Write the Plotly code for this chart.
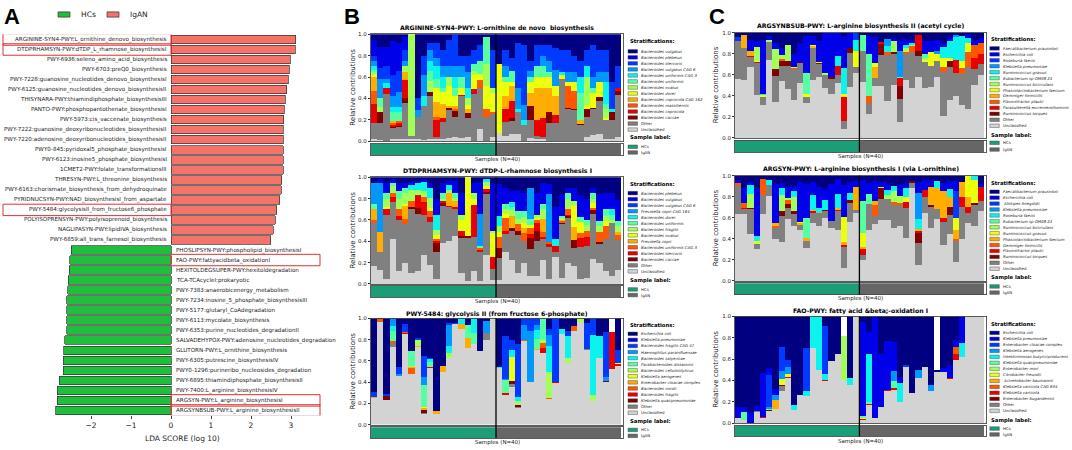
import plotly.graph_objects as go

W, H = 1072, 450
FONT = "DejaVu Sans"

# ---------------- Panel A : LEfSe LDA scores ----------------
lda_igan_names = [
    "ARGININE-SYN4-PWY:L_ornithine_denovo_biosynthesis",
    "DTDPRHAMSYN-PWY:dTDP_L_rhamnose_biosynthesisI",
    "PWY-6936:seleno_amino_acid_biosynthesis",
    "PWY-6703:preQ0_biosynthesis",
    "PWY-7228:guanosine_nucleotides_denovo_biosynthesisI",
    "PWY-6125:guanosine_nucleotides_denovo_biosynthesisII",
    "THISYNARA-PWY:thiamindiphosphate_biosynthesisIII",
    "PANTO-PWY:phosphopantothenate_biosynthesisI",
    "PWY-5973:cis_vaccenate_biosynthesis",
    "PWY-7222:guanosine_deoxyribonucleotides_biosynthesisII",
    "PWY-7220:adenosine_deoxyribonucleotides_biosynthesisII",
    "PWY0-845:pyridoxal5_phosphate_biosynthesisI",
    "PWY-6123:inosine5_phosphate_biosynthesisI",
    "1CMET2-PWY:folate_transformationsIII",
    "THRESYN-PWY:L_threonine_biosynthesis",
    "PWY-6163:chorismate_biosynthesis_from_dehydroquinate",
    "PYRIDNUCSYN-PWY:NAD_biosynthesisI_from_aspartate",
    "PWY-5484:glycolysisII_from_fructose6_phosphate",
    "POLYISOPRENSYN-PWY:polyisoprenoid_biosynthesis",
    "NAGLIPASYN-PWY:lipidIVA_biosynthesis",
    "PWY-6859:all_trans_farnesol_biosynthesis",
]
lda_igan_scores = [3.12, 3.11, 2.98, 2.96, 2.93, 2.89, 2.86, 2.83, 2.82, 2.81, 2.81,
                   2.81, 2.80, 2.80, 2.77, 2.75, 2.72, 2.64, 2.60, 2.56, 2.49]
lda_hcs_names = [
    "PHOSLIPSYN-PWY:phospholipid_biosynthesisI",
    "FAO-PWY:fattyacidbeta_oxidationI",
    "HEXITOLDEGSUPER-PWY:hexitoldegradation",
    "TCA-TCAcycleI:prokaryotic",
    "PWY-7383:anaerobicenergy_metabolism",
    "PWY-7234:inosine_5_phosphate_biosynthesisIII",
    "PWY-5177:glutaryl_CoAdegradation",
    "PWY-6113:mycolate_biosynthesis",
    "PWY-6353:purine_nucleotides_degradationII",
    "SALVADEHYPOX-PWY:adenosine_nucleotides_degradation",
    "GLUTORN-PWY:L_ornithine_biosynthesis",
    "PWY-6305:putrescine_biosynthesisIV",
    "PWY0-1296:purineribo_nucleosides_degradation",
    "PWY-6895:thiamindiphosphate_biosynthesisII",
    "PWY-7400:L_arginine_biosynthesisIV",
    "ARGSYN-PWY:L_arginine_biosynthesisI",
    "ARGSYNBSUB-PWY:L_arginine_biosynthesisII",
]
lda_hcs_scores = [-2.50, -2.53, -2.55, -2.57, -2.58, -2.61, -2.61, -2.61, -2.61,
                  -2.66, -2.68, -2.69, -2.70, -2.80, -2.85, -2.85, -2.88]
lda_ticks = [-2, -1, 0, 1, 2, 3]
highlighted = ["ARGININE-SYN4-PWY:L_ornithine_denovo_biosynthesis",
               "DTDPRHAMSYN-PWY:dTDP_L_rhamnose_biosynthesisI",
               "PWY-5484:glycolysisII_from_fructose6_phosphate",
               "FAO-PWY:fattyacidbeta_oxidationI",
               "ARGSYN-PWY:L_arginine_biosynthesisI",
               "ARGSYNBSUB-PWY:L_arginine_biosynthesisII"]

# ---------------- Panels B / C : stratified contributions ----------------
sample_groups = ["HCs"] * 20 + ["IgAN"] * 20
y_ticks = [0.0, 0.2, 0.4, 0.6, 0.8, 1.0]

# species listed in legend order (top of stack first)
b1_species = ["Bacteroides vulgatus", "Bacteroides plebeius", "Bacteroides stercoris",
              "Bacteroides vulgatus CAG 6", "Bacteroides uniformis CAG 3", "Bacteroides uniformis",
              "Bacteroides ovatus", "Bacteroides dorei", "Bacteroides coprocola CAG 162",
              "Bacteroides massiliensis", "Bacteroides coprocola", "Bacteroides caccae"]
b2_species = ["Bacteroides plebeius", "Bacteroides vulgatus", "Bacteroides vulgatus CAG 6",
              "Prevotella copri CAG 164", "Bacteroides dorei", "Bacteroides uniformis",
              "Bacteroides fragilis", "Bacteroides ovatus", "Prevotella copri",
              "Bacteroides uniformis CAG 3", "Bacteroides stercoris", "Bacteroides caccae"]
b3_species = ["Escherichia coli", "Klebsiella pneumoniae", "Bacteroides fragilis CAG 47",
              "Haemophilus parainfluenzae", "Bacteroides salyersiae", "Parabacteroides distasonis",
              "Bacteroides cellulosilyticus", "Klebsiella aerogenes", "Enterobacter cloacae complex",
              "Bacteroides nordii", "Bacteroides fragilis", "Klebsiella quasipneumoniae"]
c1_species = ["Faecalibacterium prausnitzii", "Escherichia coli", "Roseburia faecis",
              "Klebsiella pneumoniae", "Ruminococcus gnavus", "Eubacterium sp OM08 24",
              "Ruminococcus bicirculans", "Phascolarctobacterium faecium", "Gemmiger formicilis",
              "Flavonifractor plautii", "Parasutterella excrementihominis", "Ruminococcus torques"]
c2_species = ["Faecalibacterium prausnitzii", "Escherichia coli", "Alistipes finegoldii",
              "Klebsiella pneumoniae", "Roseburia faecis", "Eubacterium sp OM08 24",
              "Ruminococcus bicirculans", "Ruminococcus gnavus", "Phascolarctobacterium faecium",
              "Gemmiger formicilis", "Flavonifractor plautii", "Ruminococcus torques"]
c3_species = ["Escherichia coli", "Klebsiella pneumoniae", "Enterobacter cloacae complex",
              "Klebsiella aerogenes", "Intestinimonas butyriciproducens", "Klebsiella quasipneumoniae",
              "Enterobacter mori", "Citrobacter freundii", "Acinetobacter baumannii",
              "Klebsiella variicola CAG 634", "Klebsiella variicola", "Enterobacter bugandensis"]

# each row = one sample, values bottom-up:
# [Unclassified, Other, sp12, sp11, sp10, sp9, sp8, sp7, sp6, sp5, sp4, sp3, sp2, sp1]
b1_rows = [
    [.02,.15,0,.18,.12,.13,.02,.03,.02,.03,.05,.05,.15,.05],
    [.01,.16,.10,0,0,0,0,.05,.08,0,.18,.10,.20,.12],
    [0,.44,0,.06,0,0,0,0,0,.04,.04,.12,.18,.12],
    [.02,.10,.01,.02,.02,.02,0,0,.08,.05,.10,.20,.32,.06],
    [.02,.11,.01,.03,.02,0,0,0,.08,.05,.14,.20,.26,.08],
    [.02,.34,.04,.17,0,.08,0,.05,0,0,.05,.10,.12,.03],
    [.02,.03,0,0,0,0,0,.95,0,0,0,0,0,0],
    [.02,.21,0,0,0,0,0,0,0,0,.06,.11,0,.60],
    [.01,.32,0,0,0,0,0,0,0,.09,.20,.18,0,.20],
    [.02,.40,.04,0,0,0,0,.10,.10,.09,.10,.07,0,.08],
    [.02,.02,0,.16,.03,.14,.13,0,.08,.12,.08,.14,0,.08],
    [.02,.16,0,.04,0,.13,.11,0,.04,.10,.10,.15,0,.15],
    [.03,.26,.02,0,0,.02,.19,.08,0,0,.10,.25,0,.05],
    [.04,.19,.05,0,.02,.03,.09,0,.08,.10,.10,.29,0,.01],
    [.03,.39,0,.01,0,0,.07,0,.10,0,.10,.10,0,.20],
    [.04,.18,.04,0,0,.04,.04,.06,0,.10,.15,.15,0,.20],
    [0,.44,0,.05,0,0,.13,.04,.06,0,0,.13,0,.15],
    [.11,.39,0,0,.07,0,.06,0,.12,0,0,.15,0,.10],
    [0,.23,0,0,.07,0,.22,.20,.25,0,0,0,0,.03],
    [.04,.21,0,0,.02,0,.18,.05,0,0,0,.35,0,.15],
    [.08,0,0,0,0,0,.64,0,0,0,0,0,0,.28],
    [.05,.13,0,.12,0,.12,.13,0,.05,0,.10,.15,0,.15],
    [.07,.12,.03,.16,0,.14,.03,0,.11,0,0,.12,0,.22],
    [.07,.20,0,0,0,0,0,0,0,.03,.20,.42,0,.08],
    [0,.15,0,0,0,0,0,0,0,.05,.14,.56,0,.10],
    [.03,.17,.13,0,0,.12,.10,0,.05,0,.06,.09,0,.25],
    [.02,.03,0,.15,0,.30,.10,0,.10,0,0,.20,0,.10],
    [.02,.02,0,.18,0,.28,.10,0,.10,0,.10,.10,0,.10],
    [0,.17,.10,0,0,.23,.10,0,.05,0,.10,.15,0,.10],
    [0,.17,0,.07,0,.18,.10,0,0,0,.15,.20,0,.13],
    [0,.57,0,0,.01,0,.04,0,0,.03,0,.20,0,.15],
    [0,.30,.01,0,.21,0,.03,0,0,0,.10,.20,0,.15],
    [0,.29,.01,0,.17,0,.08,0,0,0,.10,.15,0,.20],
    [0,.15,.01,0,0,.04,0,0,.25,.15,0,.15,0,.25],
    [.04,.19,.07,0,0,0,.04,.26,0,.10,0,.15,0,.15],
    [.06,.24,.01,0,0,0,.14,0,.05,0,.10,.30,0,.10],
    [.07,.31,.03,0,0,0,.14,0,0,0,.10,.20,0,.15],
    [.02,.18,0,0,0,0,.02,.08,.05,.20,.10,.20,0,.15],
    [.02,.18,.07,0,0,0,0,0,0,.03,0,.25,0,.45],
    [.04,.39,.04,.03,0,0,0,0,0,0,0,.20,0,.30],
]
b2_rows = [
    [.17,.40,0,0,.03,.10,0,0,.05,0,.20,0,0,.05],
    [.13,.17,0,0,0,.19,0,0,0,0,.46,0,.03,.02],
    [.05,.60,0,.05,0,0,.02,.08,.05,0,0,0,.10,.05],
    [.42,.35,0,.05,.03,0,0,.07,.03,0,0,0,.03,.02],
    [.12,.48,0,.04,.06,0,0,.10,.07,0,0,0,.08,.05],
    [.20,.36,0,0,.05,.12,.02,.10,.05,0,0,0,.05,.05],
    [.10,.60,.02,0,.06,0,0,.10,0,.05,0,0,.03,.04],
    [.12,.54,.05,.12,0,0,0,.05,0,.07,0,0,.02,.03],
    [.27,.38,0,.12,.05,0,0,.05,0,.09,0,0,.02,.02],
    [.18,.40,0,.05,.05,0,.03,.10,0,.09,0,0,.05,.05],
    [.05,.25,.08,.02,.02,0,.04,.05,0,.14,0,0,.15,.20],
    [.38,.35,.03,.02,0,0,0,.02,.05,0,0,0,.10,.05],
    [.40,.32,0,.01,0,.12,0,.03,0,.05,0,0,.04,.03],
    [.45,.25,0,.02,0,.06,0,.03,.04,0,0,0,.12,.03],
    [.10,.33,.02,.05,0,0,.10,.05,0,0,0,0,.20,.15],
    [.03,.40,.02,0,0,0,.55,0,0,0,0,0,0,0],
    [.12,.32,0,.30,0,0,.06,.05,0,0,0,0,.10,.05],
    [.03,.27,0,.02,.02,0,0,0,.02,0,.30,0,.30,.04],
    [.27,.57,.02,.03,0,0,.03,.04,0,.02,0,0,0,.02],
    [.04,.10,0,.11,0,0,.23,.02,0,0,0,0,.45,.05],
    [.04,.20,.10,0,.10,0,.05,.05,0,.10,0,0,.30,.06],
    [.30,.17,0,.03,.12,0,.05,.03,.05,0,0,0,.15,.10],
    [.22,.28,.02,0,0,.12,0,.05,.03,.05,0,0,.10,.13],
    [.10,.36,.04,0,.06,0,0,.05,.07,0,0,0,.20,.12],
    [.20,.20,0,0,.08,.04,.05,.06,.05,0,0,0,.17,.15],
    [.07,.26,.10,.04,.05,0,.03,0,.06,0,.29,0,0,.10],
    [.07,.33,.10,.07,.03,0,.02,.03,0,0,0,0,.20,.15],
    [.22,.20,0,.02,.05,.12,0,.09,.05,0,0,0,.20,.05],
    [.05,.30,0,.02,.02,0,0,0,0,0,.45,0,.10,.06],
    [.25,.05,0,.06,0,0,0,0,0,.06,0,0,.30,.28],
    [.06,.50,.01,0,.02,.01,0,.02,.02,0,0,0,.20,.16],
    [.20,.42,.02,.01,.05,0,0,.10,.05,0,0,0,.05,.10],
    [.17,.17,.07,0,0,.12,.20,.05,0,0,0,0,.12,.10],
    [.05,.30,0,.08,.05,0,.10,0,.05,0,0,0,.20,.17],
    [.06,.30,0,.08,.06,0,0,.05,.05,0,0,0,.20,.20],
    [.23,.43,.03,0,.02,0,.05,.04,.05,0,0,0,.05,.10],
    [.20,.17,.02,0,.10,0,0,.05,.05,0,0,0,.25,.16],
    [.12,.30,0,0,.12,0,.05,.05,.06,0,0,0,.15,.15],
    [.07,.50,0,0,0,0,0,.03,.05,.05,0,0,.15,.15],
    [.13,.28,0,0,.05,.03,0,.05,.05,0,0,0,.20,.21],
]
b3_rows = [
    [.25,0,0,0,0,.01,0,0,0,0,0,.05,0,.69],
    [.97,0,0,0,.02,0,0,0,0,0,0,0,0,.01],
    [.23,0,.04,0,0,0,0,0,0,0,0,.02,0,.71],
    [.73,.04,0,0,.02,0,0,0,.09,.05,.06,0,0,.01],
    [.46,0,0,0,0,0,0,0,0,0,.02,.06,0,.46],
    [.85,0,0,.01,.01,0,0,0,0,0,0,.08,0,.05],
    [.48,0,0,0,.05,.01,0,.01,.14,0,0,0,0,.31],
    [.73,0,0,0,0,.01,0,.06,0,0,0,.02,0,.18],
    [.10,.01,.03,0,0,.02,.01,0,.20,0,.08,.20,0,.35],
    [.53,0,0,.01,0,0,0,0,.05,.03,0,.01,0,.37],
    [.10,0,0,0,0,.03,0,0,0,0,0,0,0,.87],
    [.50,0,0,0,0,.05,0,0,0,0,0,0,0,.45],
    [.63,0,0,0,0,0,0,.04,0,.07,.20,.02,0,.04],
    [.95,0,0,0,0,0,0,0,0,0,0,.01,0,.04],
    [.90,0,0,0,0,.05,0,0,0,.05,0,0,0,0],
    [.72,0,0,0,0,.10,0,0,.12,0,0,0,0,.06],
    [.76,0,0,0,0,0,0,0,.10,.14,0,0,0,0],
    [.69,0,0,0,0,0,0,0,0,0,0,0,0,.31],
    [.80,.06,0,0,0,0,0,0,0,0,.12,0,0,.02],
    [.99,0,0,0,0,0,0,.01,0,0,0,0,0,0],
    [.53,0,0,0,0,0,0,0,0,.01,0,0,0,.46],
    [.28,0,0,.02,0,0,0,0,.12,0,.01,.40,0,.17],
    [.35,.03,.03,0,0,0,.23,0,0,.06,0,.10,0,.20],
    [.16,.01,.01,0,0,0,0,.04,0,.04,0,.50,0,.24],
    [.79,0,0,0,.01,0,0,0,0,0,.14,.06,0,0],
    [.40,0,0,0,0,0,0,0,0,0,.48,.11,0,.01],
    [.70,0,0,0,0,.01,0,0,.10,.08,.05,.06,0,0],
    [.67,0,0,.05,.05,0,0,.03,.20,0,0,0,0,0],
    [.24,0,0,0,.01,0,0,.25,0,.24,.10,.06,0,.10],
    [.39,0,0,.01,0,0,0,0,0,0,0,.60,0,0],
    [.85,0,0,0,0,0,0,0,0,.05,0,0,0,.10],
    [.58,0,0,0,0,0,0,.05,0,.20,0,.05,0,.12],
    [.88,0,0,0,.05,0,0,0,0,0,0,0,0,.07],
    [.97,0,0,0,0,0,0,.03,0,0,0,0,0,0],
    [.70,.01,0,0,0,0,0,0,0,0,0,.25,0,.04],
    [.22,0,0,0,0,0,0,.06,0,.56,0,.16,0,0],
    [.63,0,0,0,0,0,0,0,0,.20,0,0,0,.17],
    [.40,0,.01,0,0,0,0,0,0,0,.04,.42,0,.13],
    [.52,0,0,.35,0,0,0,0,0,0,0,0,0,0],
    [.55,0,0,.02,0,0,.01,0,0,0,0,.12,0,.30],
]
c1_rows = [
    [.56,.36,0,0,0,0,0,0,0,0,0,.04,0,.04],
    [.55,.30,0,0,0,.13,0,0,0,0,0,0,0,.02],
    [.67,.10,0,.01,0,.05,0,0,0,0,0,0,.10,.07],
    [.41,.30,0,.01,0,0,.01,.13,0,0,0,0,.06,.08],
    [.31,.08,0,0,0,0,.02,0,0,.01,0,0,.51,.07],
    [.74,.17,0,0,0,0,0,.02,0,0,0,0,.04,.03],
    [.34,.25,.06,0,0,0,0,.19,0,0,0,0,.06,.10],
    [.54,.14,.05,0,.02,0,0,.04,0,0,0,0,.06,.15],
    [.46,.22,.05,0,0,0,0,.15,0,0,0,0,0,.12],
    [.36,.29,0,0,.01,0,.01,0,0,0,0,0,.13,.20],
    [.52,.18,0,0,.01,0,0,0,0,0,0,0,.19,.10],
    [.33,.06,0,0,0,0,.03,0,.20,0,0,0,.35,.03],
    [.55,.30,0,0,0,.02,.01,0,0,0,0,0,.09,.03],
    [.58,.12,.01,0,0,0,.01,0,0,0,0,0,.20,.08],
    [.47,.13,0,0,0,0,0,.02,0,0,0,0,.38,0],
    [.42,.14,.02,0,0,0,0,0,0,0,0,0,.42,0],
    [.52,.08,0,.08,0,0,0,0,0,.10,0,0,.22,0],
    [.08,.08,0,.23,0,0,.03,0,0,.24,0,0,.30,.04],
    [.48,.33,.04,0,0,0,0,0,0,0,0,0,.15,0],
    [.62,.05,0,0,0,0,.16,0,0,.10,0,.07,0,0],
    [.53,.30,0,0,0,0,0,0,.15,0,0,0,0,.02],
    [.23,.10,0,0,.07,0,0,0,.40,0,0,0,.17,.03],
    [.49,.08,0,0,0,.10,.04,0,0,0,0,0,.25,.04],
    [.49,.30,.10,.02,0,0,0,0,0,0,0,0,0,.09],
    [.35,.44,0,0,.03,0,0,0,0,.05,.07,0,0,.06],
    [.50,.30,.02,0,0,0,0,.10,0,0,0,0,.03,.05],
    [.15,.22,.12,.08,0,0,0,0,.01,0,.25,0,.10,.07],
    [.55,.25,0,0,.02,0,0,.03,0,.03,0,0,.06,.06],
    [.47,.35,0,0,.05,0,0,.01,0,.02,0,0,.03,.07],
    [.58,.20,.05,.15,0,0,0,0,0,0,0,0,0,.02],
    [.47,.25,0,0,0,0,.02,.02,.04,0,0,0,.12,.08],
    [.48,.20,0,0,0,0,.14,0,0,0,0,0,.10,.08],
    [.58,.15,0,0,0,0,.07,0,0,0,.03,0,.10,.07],
    [.21,.42,0,0,.04,0,.09,0,0,.10,0,0,.04,.10],
    [.36,.31,.06,0,0,0,.03,0,0,.16,0,0,.04,.04],
    [.40,.22,0,.12,0,0,0,0,0,.22,.02,0,0,.02],
    [.31,.30,0,0,.05,0,.07,0,0,.24,0,0,0,.03],
    [.27,.40,0,0,.15,0,.08,0,0,.05,0,0,.04,.01],
    [.50,.15,0,.11,.12,0,0,0,0,0,0,0,.05,.07],
    [.60,.10,0,.10,.10,0,0,0,0,0,0,0,.05,.05],
]
c2_rows = [
    [.64,.26,0,0,.03,0,0,0,0,0,0,0,.03,.04],
    [.64,.04,0,.01,.05,0,0,0,0,0,0,0,.14,.12],
    [.45,.23,.01,0,0,0,0,.14,0,.08,0,0,.03,.06],
    [.30,.05,0,0,0,0,.03,0,0,.05,0,0,.45,.12],
    [.64,.18,0,0,.15,0,0,0,0,0,0,0,0,.03],
    [.81,.10,0,0,0,0,0,0,0,.05,0,0,0,.04],
    [.40,.10,0,0,.02,.03,0,0,0,0,0,0,.37,.08],
    [.37,.25,.04,0,0,0,0,.16,0,.06,0,0,.05,.07],
    [.59,.10,.04,0,.04,0,0,.02,0,0,0,0,.10,.11],
    [.52,.12,.02,0,0,0,0,.14,0,.05,0,0,.05,.10],
    [.48,.05,0,0,0,.02,.01,0,0,0,0,0,.38,.06],
    [.31,.07,0,0,0,.03,0,0,.19,0,0,0,.32,.08],
    [.55,.10,0,.01,0,.01,0,0,0,.15,0,0,.12,.06],
    [.52,.12,0,0,.01,0,0,0,0,.04,0,0,.20,.11],
    [.60,.06,.01,0,0,0,0,0,0,.10,0,0,.10,.13],
    [.50,.07,0,0,0,0,0,0,0,0,0,0,.35,.08],
    [.48,.18,0,.01,0,.02,0,0,0,.14,0,0,.14,.03],
    [.12,.20,0,.02,0,.03,.24,0,0,0,0,0,.30,.09],
    [.56,.18,.03,0,0,0,0,0,0,.07,0,0,.10,.06],
    [.65,.02,0,0,0,.22,0,0,0,0,0,0,.06,.05],
    [.20,.05,0,.05,0,.02,.14,0,.30,0,0,0,.20,.04],
    [.48,.25,0,0,0,0,0,0,.10,0,0,0,.10,.07],
    [.54,.08,0,0,.10,.04,0,0,0,0,0,0,.19,.05],
    [.58,.20,.10,0,0,0,0,.01,0,0,0,0,.05,.06],
    [.58,.20,0,0,0,0,0,.04,0,.04,0,0,.07,.07],
    [.50,.22,0,0,.03,0,0,.10,0,.05,0,0,0,.10],
    [.52,.20,0,0,.02,0,0,.07,0,0,0,0,.10,.09],
    [.41,.28,0,.06,0,0,.05,0,0,.08,0,0,.05,.07],
    [.88,.05,.02,0,0,0,0,0,0,0,0,0,0,.05],
    [.15,.21,.10,.01,0,.02,0,0,0,.10,.25,0,.10,.06],
    [.65,.15,0,.06,0,0,0,0,0,0,0,0,.10,.04],
    [.50,.20,.02,0,0,.17,0,0,0,0,0,0,.06,.05],
    [.59,.09,0,0,0,.20,0,0,0,.07,0,0,0,.05],
    [.34,.22,0,.04,0,.25,0,0,0,0,0,0,.08,.07],
    [.45,.18,.07,0,0,.10,0,0,0,.07,0,0,.08,.05],
    [.18,.20,0,0,.02,.08,.12,0,0,0,0,.25,.10,.05],
    [.40,.30,0,.10,0,.14,0,0,0,0,0,0,0,.06],
    [.55,.10,0,.05,0,.10,.20,0,0,0,0,0,0,0],
    [.52,.20,.02,0,0,0,.22,0,0,.04,0,0,0,0],
    [.66,.10,0,.13,0,0,0,0,0,0,0,0,.03,.08],
]
c3_rows = [
    [.05,0,0,0,0,0,0,0,0,0,0,0,.10,.85],
    [.03,0,0,0,0,0,0,0,.07,0,0,0,.05,.85],
    [0,0,0,0,0,0,0,0,0,0,0,0,.10,.90],
    [.10,.01,0,0,0,0,0,0,0,0,0,0,.05,.84],
    [.05,0,0,.01,0,0,0,0,0,0,0,0,.41,.53],
    [.11,0,.01,0,0,0,0,0,.01,0,.02,.30,.07,.48],
    [.13,0,0,0,0,.09,0,0,0,0,.04,0,.06,.68],
    [.30,.05,.01,0,0,0,.05,0,0,0,.08,.22,0,.29],
    [.42,0,0,.01,0,0,.03,0,0,0,.07,.06,0,.41],
    [.12,0,0,0,0,0,0,0,0,.05,0,0,0,.83],
    [.26,0,0,0,0,0,0,0,0,0,0,0,0,.74],
    [.25,0,0,0,0,0,0,0,0,.05,0,.40,0,.30],
    [.70,0,0,0,0,0,0,0,0,.30,0,0,0,0],
    [.50,0,0,0,0,0,0,0,0,.50,0,0,0,0],
    [.39,0,0,.01,0,0,0,0,0,.06,0,.45,0,.09],
    [.58,0,0,0,0,0,0,0,0,0,0,0,0,.42],
    [.65,0,0,0,0,0,0,0,0,0,0,0,0,.35],
    [.40,0,0,0,0,0,0,.42,0,0,0,0,0,0],
    [.36,0,0,0,0,0,0,0,0,.06,0,0,0,.58],
    [1.0,0,0,0,0,0,0,0,0,0,0,0,0,0],
    [.03,0,0,.01,0,0,.01,0,.02,0,0,0,.88,.05],
    [.17,0,0,.01,0,0,0,0,.02,.45,0,0,.20,.15],
    [.05,0,0,0,0,0,0,0,0,0,0,0,.95,0],
    [.15,0,0,0,0,0,0,0,0,0,0,0,.50,.35],
    [.30,0,0,.01,0,0,0,0,0,0,0,0,.46,.23],
    [.31,0,0,.02,0,0,0,0,.06,0,.10,0,.27,.24],
    [.20,0,0,0,0,0,0,0,0,.18,0,0,.05,.57],
    [.53,0,0,0,0,0,0,0,0,0,0,.01,0,.46],
    [.28,0,0,0,0,0,0,0,0,0,0,0,0,.72],
    [.42,0,0,0,0,0,0,0,0,0,.08,0,0,.50],
    [.53,0,0,0,0,0,0,0,0,0,0,0,0,.47],
    [.30,0,0,0,0,0,0,0,0,0,.06,0,0,.64],
    [.48,0,0,0,0,0,0,0,0,0,0,0,0,.02],
    [.48,0,0,0,0,0,0,0,0,0,0,0,.04,.48],
    [.41,0,0,.01,0,0,0,0,0,0,0,0,.12,.46],
    [.59,0,0,.06,.06,0,0,0,0,0,0,0,.07,.22],
    [.62,0,0,0,0,0,0,0,0,.13,0,0,.25,0],
    [1.0,0,0,0,0,0,0,0,0,0,0,0,0,0],
    [1.0,0,0,0,0,0,0,0,0,0,0,0,0,0],
    [1.0,0,0,0,0,0,0,0,0,0,0,0,0,0],
]

titles = {
    "b1": "ARGININE-SYN4-PWY: L-ornithine de novo  biosynthesis",
    "b2": "DTDPRHAMSYN-PWY: dTDP-L-rhamnose biosynthesis I",
    "b3": "PWY-5484: glycolysis II (from fructose 6-phosphate)",
    "c1": "ARGSYNBSUB-PWY: L-arginine biosynthesis II (acetyl cycle)",
    "c2": "ARGSYN-PWY: L-arginine biosynthesis I (via L-ornithine)",
    "c3": "FAO-PWY: fatty acid &amp;beta;-oxidation I",
}

# ---------------- styling ----------------
JET12 = ["#000080", "#0000e9", "#003aff", "#0097ff", "#0bf3ec", "#56ffa1",
         "#a1ff56", "#ecff0b", "#ffad00", "#ff5700", "#e90000", "#800000"]
OTHER_C = "#808080"
UNCL_C = "#d3d3d3"
GROUP_C = {"HCs": "#1b9e77", "IgAN": "#666666"}
RED_C = "#f6736a"
GREEN_C = "#1fbf3c"


def px(x):
    return x / W


def py(y):
    return 1 - y / H


traces = []
shapes = []
annotations = []


def ann(x, y, text, size, xanchor="center", color="#222", family=FONT, **kw):
    annotations.append(dict(x=px(x), y=py(y), xref="paper", yref="paper", text=text,
                            showarrow=False, xanchor=xanchor, yanchor="middle",
                            font=dict(size=size, family=family, color=color), **kw))


layout = dict(width=W, height=H, margin=dict(l=0, r=0, t=0, b=0),
              paper_bgcolor="white", plot_bgcolor="white",
              barmode="stack", bargap=0, showlegend=False,
              font=dict(family=FONT, color="#222"))

# ---------------- Panel A ----------------
n_igan = len(lda_igan_names)
all_names = lda_igan_names + lda_hcs_names
layout["xaxis"] = dict(domain=[px(51), px(299)], range=[-3.0, 3.2], anchor="y",
                       tickvals=lda_ticks, ticks="outside", ticklen=3, tickcolor="#444",
                       tickfont=dict(size=7.5, color="#222"), showgrid=False, zeroline=False,
                       showline=False)
layout["yaxis"] = dict(domain=[py(418), py(31.9)], range=[len(all_names) - 0.5, -0.5],
                       anchor="x", visible=False)
traces.append(go.Bar(orientation="h", x=lda_igan_scores, y=list(range(n_igan)), width=0.85,
                     marker=dict(color=RED_C, line=dict(color="#333", width=0.7)),
                     xaxis="x", yaxis="y", name="IgAN"))
traces.append(go.Bar(orientation="h", x=lda_hcs_scores,
                     y=list(range(n_igan, len(all_names))), width=0.85,
                     marker=dict(color=GREEN_C, line=dict(color="#333", width=0.7)),
                     xaxis="x", yaxis="y", name="HCs"))
for i, nm in enumerate(all_names):
    left = i < n_igan
    annotations.append(dict(x=0, y=i, xref="x", yref="y", text=nm, showarrow=False,
                            xanchor="right" if left else "left", yanchor="middle",
                            xshift=-2 if left else 3,
                            font=dict(size=5.6, family=FONT, color="#222")))
    if nm in highlighted:
        x0, x1 = (3, 171) if left else (171, 320)
        shapes.append(dict(type="rect", xref="paper", yref="y", x0=px(x0), x1=px(x1),
                           y0=i - 0.57, y1=i + 0.57, line=dict(color="#e03030", width=1)))
ann(182, 441, "LDA SCORE (log 10)", 7.5)
# legend of panel A
for lab, col, sx, tx in [("HCs", GREEN_C, 58, 79), ("IgAN", RED_C, 107, 128)]:
    shapes.append(dict(type="rect", xref="paper", yref="paper", x0=px(sx), x1=px(sx + 12),
                       y0=py(14.3), y1=py(9), fillcolor=col, line=dict(color="#333", width=0.7)))
    ann(tx, 11.7, lab, 7.5, xanchor="left")

# panel letters
for lab, x in [("A", 12), ("B", 352), ("C", 717)]:
    ann(x, 14, "<b>%s</b>" % lab, 22, color="black", family="Liberation Sans")

# ---------------- stacked panels ----------------
geoms = {
    "b1": dict(x0=370.7, x1=623.5, y0=31.7, y1=140, s0=142.5, s1=154.5, ty=25, sy=158.5,
               lx=627.5, hy=38.3, iy=49, dy=6.1, sly=136.7, hcy=145.7, igy=151.5, ylx=353),
    "b2": dict(x0=370.7, x1=623.5, y0=176.7, y1=284.7, s0=286.7, s1=298.3, ty=170.7, sy=302.7,
               lx=627.5, hy=183.3, iy=192.7, dy=6.1, sly=281, hcy=290.3, igy=296, ylx=353),
    "b3": dict(x0=370.7, x1=623.5, y0=319.7, y1=427.3, s0=430, s1=441, ty=314.7, sy=445.5,
               lx=627.5, hy=326, iy=335.3, dy=6.15, sly=424, hcy=432.7, igy=438.7, ylx=353),
    "c1": dict(x0=735, x1=986, y0=30, y1=136.7, s0=139.3, s1=151, ty=23.7, sy=155.5,
               lx=989.3, hy=36, iy=46, dy=6.03, sly=134.3, hcy=141.7, igy=148.5, ylx=716),
    "c2": dict(x0=735, x1=986, y0=175, y1=281.7, s0=284, s1=295.5, ty=168.3, sy=299.5,
               lx=989.3, hy=182.7, iy=191.3, dy=6.0, sly=278.3, hcy=287.3, igy=293.5, ylx=716),
    "c3": dict(x0=735, x1=986, y0=317.7, y1=425.7, s0=428.3, s1=439.3, ty=312.3, sy=444.5,
               lx=989.3, hy=325, iy=334.3, dy=6.08, sly=422.7, hcy=431.3, igy=437.3, ylx=716),
}
panels = [("b1", b1_species, b1_rows), ("b2", b2_species, b2_rows), ("b3", b3_species, b3_rows),
          ("c1", c1_species, c1_rows), ("c2", c2_species, c2_rows), ("c3", c3_species, c3_rows)]

n = len(sample_groups)
n_hc = sample_groups.count("HCs")
frame = dict(showline=True, mirror=True, linecolor="#333", linewidth=0.8,
             showgrid=False, zeroline=False)

for p, (key, species, rows) in enumerate(panels):
    g = geoms[key]
    k = 2 + 2 * p
    ks = k + 1
    xr = [-0.5, n - 0.5 + 0.35]
    layout["xaxis%d" % k] = dict(domain=[px(g["x0"]), px(g["x1"])], range=xr, anchor="y%d" % k,
                                 showticklabels=False, ticks="", **frame)
    layout["yaxis%d" % k] = dict(domain=[py(g["y1"]), py(g["y0"])], range=[0, 1], anchor="x%d" % k,
                                 tickvals=y_ticks, tickformat=".1f", ticks="outside", ticklen=2,
                                 tickcolor="#333", tickfont=dict(size=5.5, color="#222"), **frame)
    layout["xaxis%d" % ks] = dict(domain=[px(g["x0"]), px(g["x1"])], range=xr, anchor="y%d" % ks,
                                  showticklabels=False, ticks="", **frame)
    layout["yaxis%d" % ks] = dict(domain=[py(g["s1"]), py(g["s0"])], range=[0, 1], anchor="x%d" % ks,
                                  showticklabels=False, ticks="", **frame)

    layer_names = ["Unclassified", "Other"] + species[::-1]
    layer_colors = [UNCL_C, OTHER_C] + JET12[::-1]
    xs = list(range(n))
    for j, (ln, lc) in enumerate(zip(layer_names, layer_colors)):
        traces.append(go.Bar(x=xs, y=[r[j] for r in rows], width=1.0, name=ln,
                             marker=dict(color=lc, line=dict(width=0)),
                             xaxis="x%d" % k, yaxis="y%d" % k))
    traces.append(go.Bar(x=xs, y=[1] * n, width=1.0, name="Sample label",
                         marker=dict(color=[GROUP_C[s] for s in sample_groups], line=dict(width=0)),
                         xaxis="x%d" % ks, yaxis="y%d" % ks))
    # divider between groups
    shapes.append(dict(type="line", xref="x%d" % k, yref="paper", x0=n_hc - 0.5, x1=n_hc - 0.5,
                       y0=py(g["s1"]), y1=py(g["y0"]), line=dict(color="black", width=1.3)))

    cx = (g["x0"] + g["x1"]) / 2
    ann(cx, g["ty"], "<b>%s</b>" % titles[key], 6.2, color="black")
    ann(cx, g["sy"], "Samples (N=40)", 5.5)
    ann(g["ylx"], (g["y0"] + g["y1"]) / 2, "Relative contributions", 7, textangle=-90)
    # legend
    lx = g["lx"]
    ann(lx, g["hy"], "<b>Stratifications:</b>", 5.3, xanchor="left", color="black")
    leg_items = [("<i>%s</i>" % s, c) for s, c in zip(species, JET12)] + \
                [("Other", OTHER_C), ("Unclassified", UNCL_C)]
    for i, (txt, col) in enumerate(leg_items):
        yy = g["iy"] + i * g["dy"]
        shapes.append(dict(type="rect", xref="paper", yref="paper", x0=px(lx + 0.5), x1=px(lx + 10),
                           y0=py(yy + 1.8), y1=py(yy - 1.8), fillcolor=col,
                           line=dict(color="#333", width=0.4)))
        ann(lx + 11.5, yy, txt, 3.9, xanchor="left")
    ann(lx, g["sly"], "<b>Sample label:</b>", 5.3, xanchor="left", color="black")
    for lab, yy in [("HCs", g["hcy"]), ("IgAN", g["igy"])]:
        shapes.append(dict(type="rect", xref="paper", yref="paper", x0=px(lx + 0.5), x1=px(lx + 10),
                           y0=py(yy + 1.8), y1=py(yy - 1.8), fillcolor=GROUP_C[lab],
                           line=dict(color="#333", width=0.4)))
        ann(lx + 11.5, yy, lab, 3.9, xanchor="left")

layout["shapes"] = shapes
layout["annotations"] = annotations
fig = go.Figure(data=traces, layout=layout)
fig.write_html("out.html", config={"displayModeBar": False, "staticPlot": True},
               post_script="document.body.style.margin='0px';")
